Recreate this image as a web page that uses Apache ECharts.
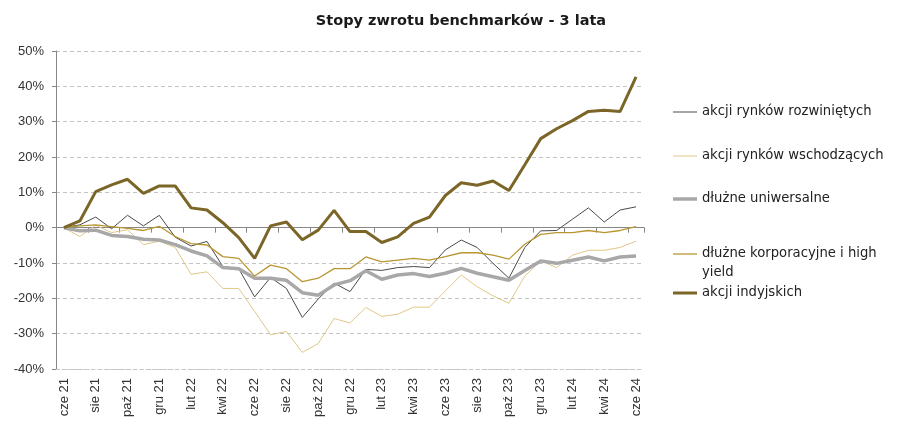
<!DOCTYPE html>
<html><head><meta charset="utf-8">
<script src="https://cdn.jsdelivr.net/npm/echarts@6/dist/echarts.min.js"></script>
<style>html,body{margin:0;padding:0;background:#fff}#c{width:901px;height:421px}</style>
</head><body><div id="c"></div>
<script>
var months = ['cze 21','lip 21','sie 21','wrz 21','paź 21','lis 21','gru 21','sty 22','lut 22','mar 22','kwi 22','maj 22','cze 22','lip 22','sie 22','wrz 22','paź 22','lis 22','gru 22','sty 23','lut 23','mar 23','kwi 23','maj 23','cze 23','lip 23','sie 23','wrz 23','paź 23','lis 23','gru 23','sty 24','lut 24','mar 24','kwi 24','maj 24','cze 24'];
var seriesNames = ['akcji rynków rozwiniętych','akcji rynków wschodzących','dłużne uniwersalne','dłużne korporacyjne i high yield','akcji indyjskich'];
var legendLines = [['akcji rynków rozwiniętych'],['akcji rynków wschodzących'],['dłużne uniwersalne'],['dłużne korporacyjne i high','yield'],['akcji indyjskich']];
var rozwiniete = [0,0.8,3.0,-0.3,3.5,0.5,3.5,-2.7,-5.2,-3.9,-11.0,-11.6,-19.6,-14.1,-17.2,-25.4,-20.2,-15.7,-18.1,-11.8,-12.1,-11.3,-11.0,-11.3,-6.3,-3.5,-5.6,-10.1,-14.3,-5.6,-0.9,-0.8,2.4,5.6,1.6,5.0,5.9];
var wschodzace = [0,-2.5,0.7,-1.4,-0.6,-4.8,-3.8,-5.6,-13.2,-12.5,-17.2,-17.2,-23.7,-30.3,-29.4,-35.3,-32.8,-25.7,-27.0,-22.6,-25.1,-24.5,-22.5,-22.5,-17.9,-13.4,-16.7,-19.3,-21.4,-13.7,-9.4,-11.3,-7.8,-6.4,-6.4,-5.6,-3.8];
var uniwersalne = [0,-0.9,-0.7,-2.2,-2.5,-3.3,-3.5,-4.8,-6.6,-8.0,-11.3,-11.6,-14.3,-14.3,-14.9,-18.4,-19.1,-16.2,-15.0,-12.2,-14.6,-13.4,-13.0,-13.8,-12.9,-11.5,-12.9,-13.9,-14.9,-12.1,-9.4,-10.1,-9.2,-8.3,-9.4,-8.3,-8.0];
var korporacyjne = [0,0.5,0.8,0.3,-0.2,-0.8,0.4,-2.5,-4.5,-4.9,-8.2,-8.7,-13.7,-10.6,-11.6,-15.3,-14.3,-11.6,-11.6,-8.3,-9.7,-9.2,-8.7,-9.2,-8.2,-7.1,-7.1,-7.8,-8.9,-4.7,-1.9,-1.4,-1.4,-0.8,-1.4,-0.8,0.3];
var indyjskie = [0,1.9,10.2,12.1,13.7,9.7,11.8,11.8,5.6,5.0,1.4,-2.8,-8.7,0.5,1.6,-3.4,-0.7,4.9,-1.1,-1.1,-4.2,-2.6,1.2,3.0,9.1,12.7,12.0,13.2,10.5,17.8,25.2,28.0,30.3,32.9,33.2,32.9,42.7];

var FONT = '"DejaVu Sans", sans-serif';
var AXFONT = '"Liberation Sans", Arial, sans-serif';
var colors = ['#4a4a4a','#e0c788','#a8a8a8','#b89630','#7b6628'];
var widths = [1,1,3.5,1.3,3];
var dataSets = [rozwiniete, wschodzace, uniwersalne, korporacyjne, indyjskie];
var legendY = [112,156,199,254,293];

var chart = echarts.init(document.getElementById('c'), null, {renderer:'canvas'});
var legends = seriesNames.map(function(n, i){
  var first = legendLines[i][0];
  return {
    orient:'vertical', left:673, top: legendY[i] - 9, padding:0,
    data:[{name:n, icon:'rect'}], itemWidth:24, itemHeight:widths[i], itemGap:0,
    selectedMode:false,
    formatter: function(){return first;},
    textStyle:{fontFamily:FONT, fontSize:13.2, color:'#222', lineHeight:18}
  };
});
var extraText = [];
legendLines.forEach(function(lines, i){
  for (var k = 1; k < lines.length; k++) {
    extraText.push({type:'text', left:702, top: legendY[i] - 9 + 18.5*k,
      style:{text:lines[k], font:'13.2px ' + FONT, fill:'#222', lineHeight:18}});
  }
});
chart.setOption({
  animation:false,
  title:{text:'Stopy zwrotu benchmarków - 3 lata', left:456, textAlign:'center', top:9,
    textStyle:{fontFamily:FONT, fontSize:14.5, fontWeight:'bold', color:'#1a1a1a'}},
  legend: legends,
  graphic: extraText,
  grid:{left:56, right:257, top:51, bottom:52},
  xAxis:[{
    type:'category', data:months, boundaryGap:true, position:'bottom',
    axisLine:{show:true, onZero:false, lineStyle:{color:'#c8c8c8', type:[3,3]}},
    axisTick:{show:false},
    axisLabel:{interval:1, rotate:90, margin:9, fontFamily:AXFONT, fontSize:13, color:'#333'},
    splitLine:{show:false}
  },{
    type:'category', data:months, boundaryGap:true, position:'bottom',
    axisLine:{show:true, onZero:true, lineStyle:{color:'#878787', width:1}},
    axisTick:{show:true, interval:1, length:5, lineStyle:{color:'#878787'}},
    axisLabel:{show:false}
  }],
  yAxis:{
    type:'value', min:-40, max:50, interval:10,
    axisLine:{show:true, lineStyle:{color:'#878787'}},
    axisTick:{show:true, length:4, lineStyle:{color:'#878787'}},
    axisLabel:{formatter:'{value}%', margin:12, fontFamily:AXFONT, fontSize:13, color:'#333'},
    splitLine:{show:true, lineStyle:{color:'#c4c4c4', type:[4,3]}}
  },
  series: seriesNames.map(function(n,i){
    return {name:n, type:'line', xAxisIndex:0, data:dataSets[i], symbol:'none', z: (i===4?5:2+i*0.1),
      lineStyle:{color:colors[i], width:widths[i]}, itemStyle:{color:colors[i]}};
  })
});
</script></body></html>
